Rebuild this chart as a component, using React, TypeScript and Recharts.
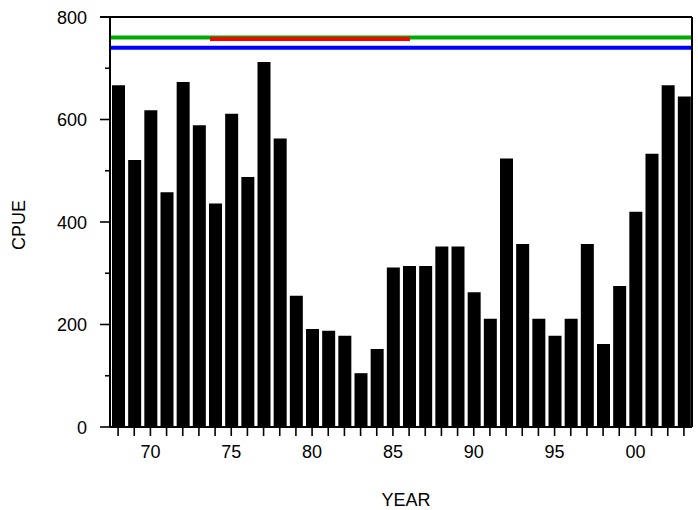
import React from 'react';
import { BarChart, Bar, XAxis, YAxis, ReferenceLine, CartesianGrid } from 'recharts';

const years = [
  1968, 1969, 1970, 1971, 1972, 1973, 1974, 1975, 1976, 1977, 1978, 1979,
  1980, 1981, 1982, 1983, 1984, 1985, 1986, 1987, 1988, 1989, 1990, 1991,
  1992, 1993, 1994, 1995, 1996, 1997, 1998, 1999, 2000, 2001, 2002, 2003,
];
const cpue = [
  667, 521, 618, 458, 673, 589, 436, 611, 488, 712, 563, 256,
  191, 188, 178, 105, 152, 311, 314, 314, 352, 352, 263, 211,
  524, 357, 211, 178, 211, 357, 162, 275, 420, 533, 667, 645,
];
const xLabelYears = [1970, 1975, 1980, 1985, 1990, 1995, 2000];
const xLabels = ['70', '75', '80', '85', '90', '95', '00'];
const yTicks = [0, 100, 200, 300, 400, 500, 600, 700, 800];
const yLabelTicks = [0, 200, 400, 600, 800];
const yMax = 800;

const data = years.map((y, i) => ({ year: y, cpue: cpue[i] }));

const CHART_W = 698;
const CHART_H = 510;
const LEFT_W = 110;
const RIGHT_W = 6;
const PLOT_W = CHART_W - LEFT_W - RIGHT_W;

const FONT = '"Liberation Sans", Arial, Helvetica, sans-serif';
const FS = 18;

const XTick = (props: any) => {
  const { x, y, payload } = props;
  const idx = xLabelYears.indexOf(payload.value);
  return (
    <g>
      <line x1={x} x2={x} y1={y} y2={y + 9} stroke="#000" strokeWidth={1.6} />
      {idx >= 0 && (
        <text x={x} y={y + 31} textAnchor="middle" fontSize={FS} fontFamily={FONT} fill="#000">
          {xLabels[idx]}
        </text>
      )}
    </g>
  );
};

const YTickLeft = (props: any) => {
  const { x, y, payload } = props;
  const major = yLabelTicks.includes(payload.value);
  const isTop = Number(payload.value) === yMax;
  return (
    <g>
      <line x1={x - (major ? 10 : 5)} x2={x} y1={y} y2={y} stroke="#000" strokeWidth={1.6} />
      {isTop && <rect x={x - 10} y={y - 1} width={PLOT_W + 10} height={2} fill="#000" />}
      {isTop && <rect x={x + 100} y={y + 20} width={200} height={4} fill="#f00" />}
      {major && (
        <text x={x - 23} y={y + 6.5} textAnchor="end" fontSize={FS} fontFamily={FONT} fill="#000">
          {payload.value}
        </text>
      )}
    </g>
  );
};

const YTickRight = (props: any) => {
  const { x, y, payload } = props;
  const major = yLabelTicks.includes(payload.value);
  return <line x1={x} x2={x + (major ? 8 : 5)} y1={y} y2={y} stroke="#000" strokeWidth={1.6} />;
};

const YearLabel = (props: any) => {
  const vb = props.viewBox || { x: 110, y: 427, width: 582, height: 83 };
  return (
    <text x={vb.x + vb.width / 2 + 5} y={vb.y + vb.height - 4} textAnchor="middle" fontSize={FS} fontFamily={FONT} fill="#000">
      YEAR
    </text>
  );
};

const CpueLabel = (props: any) => {
  const vb = props.viewBox || { x: 0, y: 17, width: 110, height: 410 };
  const cx = vb.x + 25;
  const cy = vb.y + vb.height / 2 + 3;
  return (
    <text x={cx} y={cy} transform={`rotate(-90 ${cx} ${cy})`} textAnchor="middle" fontSize={FS} fontFamily={FONT} fill="#000">
      CPUE
    </text>
  );
};

export default function App() {
  return (
    <div style={{ position: 'absolute', left: 0, top: 0, background: '#fff' }}>
      <BarChart
        width={CHART_W}
        height={CHART_H}
        data={data}
        margin={{ top: 17, right: 0, bottom: 0, left: 0 }}
        barSize={13}
      >
        <CartesianGrid vertical={false} horizontalValues={[760]} stroke="#0a0" strokeWidth={4} />
        <XAxis
          dataKey="year"
          xAxisId={0}
          height={83}
          interval={0}
          tickSize={0}
          tickMargin={0}
          tickLine={false}
          axisLine={{ stroke: '#000', strokeWidth: 2 }}
          tick={<XTick />}
          label={<YearLabel />}
        />
        <YAxis
          yAxisId={0}
          width={LEFT_W}
          domain={[0, yMax]}
          ticks={yTicks}
          interval={0}
          tickSize={0}
          tickMargin={0}
          tickLine={false}
          axisLine={{ stroke: '#000', strokeWidth: 2 }}
          tick={<YTickLeft />}
          label={<CpueLabel />}
        />
        <YAxis
          yAxisId="right"
          orientation="right"
          width={RIGHT_W}
          domain={[0, yMax]}
          ticks={yTicks}
          interval={0}
          tickSize={0}
          tickMargin={0}
          tickLine={false}
          axisLine={{ stroke: '#000', strokeWidth: 2 }}
          tick={<YTickRight />}
        />
        <Bar dataKey="cpue" fill="#000" xAxisId={0} yAxisId={0} isAnimationActive={false} />
        <ReferenceLine y={740} xAxisId={0} yAxisId={0} stroke="#00f" strokeWidth={4} />
      </BarChart>
    </div>
  );
}
